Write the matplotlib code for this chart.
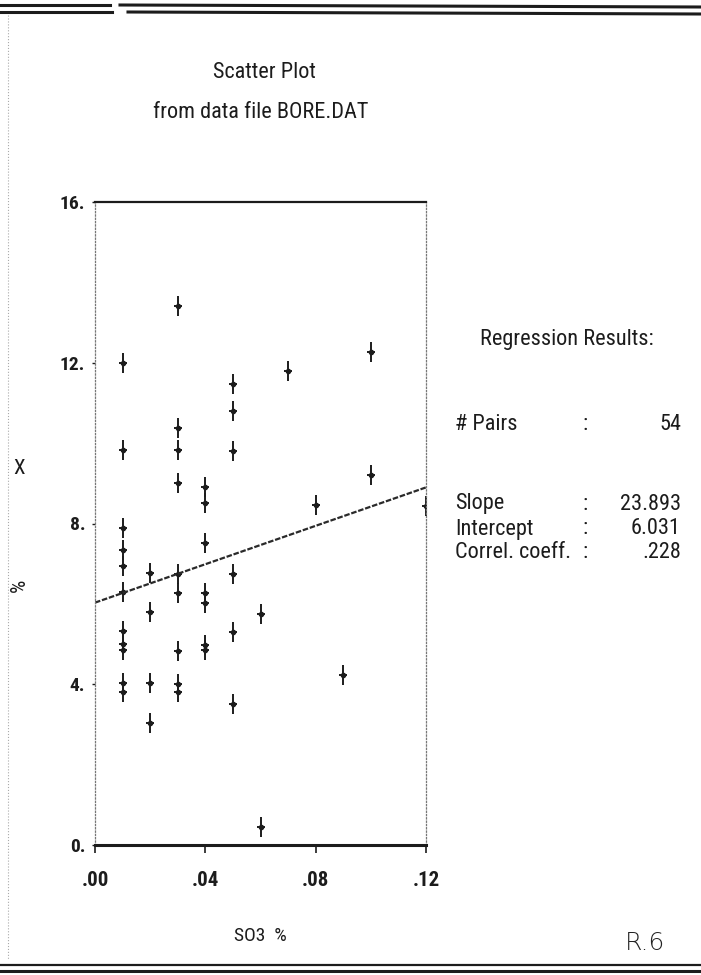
import matplotlib
matplotlib.use('Agg')
import numpy as np
import matplotlib.pyplot as plt
from matplotlib.lines import Line2D
from matplotlib import font_manager

# SO3 % vs X
so3 = [0.01, 0.01, 0.01, 0.01, 0.01, 0.01, 0.01, 0.01, 0.01, 0.01, 0.01,
       0.02, 0.02, 0.02, 0.02,
       0.03, 0.03, 0.03, 0.03, 0.03, 0.03, 0.03, 0.03, 0.03,
       0.04, 0.04, 0.04, 0.04, 0.04, 0.04, 0.04,
       0.05, 0.05, 0.05, 0.05, 0.05, 0.05,
       0.06, 0.06,
       0.07,
       0.08,
       0.09,
       0.10, 0.10,
       0.12]
xval = [12.0, 9.84, 7.9, 7.34, 6.94, 6.29, 5.33, 4.99, 4.85, 4.02, 3.81,
        6.76, 5.80, 4.02, 3.04,
        13.4, 10.37, 9.84, 9.0, 6.74, 6.28, 4.83, 4.0, 3.81,
        8.91, 8.5, 7.52, 6.28, 6.01, 4.98, 4.85,
        11.47, 10.79, 9.81, 6.74, 5.31, 3.51,
        5.76, 0.46,
        11.8,
        8.46,
        4.23,
        12.26, 9.2,
        8.43]

slope = 23.893
intercept = 6.031
reg_labels = ['# Pairs', 'Slope', 'Intercept', 'Correl. coeff.']
reg_values = ['54', '23.893', '6.031', '.228']

xticks = [0.0, 0.04, 0.08, 0.12]
xtick_labels = ['.00', '.04', '.08', '.12']
yticks = [0, 4, 8, 12, 16]
ytick_labels = ['0.', '4.', '8.', '12.', '16.']

W, H = 701, 975
ink = '#1c1c1c'

# the printout font is very narrow, use a condensed face when there is one
names = {f.name for f in font_manager.fontManager.ttflist}
narrow = [n for n in ['Roboto Condensed', 'Liberation Sans Narrow', 'Open Sans Condensed']
          if n in names]
plt.rcParams['font.family'] = narrow + ['DejaVu Sans']
plt.rcParams['font.stretch'] = 'condensed'


def px(x, y):
    return x / W, 1 - y / H


fig = plt.figure(figsize=(W / 100, H / 100), dpi=100)
ax = fig.add_axes([95 / W, 1 - 845 / H, 331 / W, 643 / H])
ax.set_xlim(0, 0.12)
ax.set_ylim(0, 16)

# data points: tall plus with a dot in the middle
ax.plot(so3, xval, ls='none', marker='|', ms=14, mew=1.4, color=ink)
ax.plot(so3, xval, ls='none', marker='_', ms=6, mew=1.4, color=ink)
ax.plot(so3, xval, ls='none', marker='o', ms=3, color=ink)

# regression line
lx = np.array([0.0, 0.12])
ax.plot(lx, intercept + slope * lx, color='#2a2a2a', lw=1.6, ls=(0, (2.5, 0.8)))

for side in ['left', 'right']:
    ax.spines[side].set_linestyle(':')
    ax.spines[side].set_linewidth(0.9)
    ax.spines[side].set_color('#777777')
ax.spines['top'].set_linewidth(1.6)
ax.spines['top'].set_color(ink)
ax.spines['bottom'].set_linewidth(2.2)
ax.spines['bottom'].set_color(ink)

ax.set_xticks(xticks)
ax.set_xticklabels(xtick_labels, fontsize=15, fontweight='bold', color=ink)
ax.set_yticks(yticks)
ax.set_yticklabels(ytick_labels, fontsize=14, fontweight='bold', color=ink)
ax.tick_params(axis='x', length=6, width=1.2, pad=13, color=ink)
ax.tick_params(axis='y', length=2, width=1.0, pad=5, color=ink)

# titles and axis labels
fig.text(*px(264, 73), 'Scatter Plot', ha='center', va='center', fontsize=16, color=ink)
fig.text(*px(261, 112), 'from data file BORE.DAT', ha='center', va='center', fontsize=16, color=ink)
fig.text(*px(260, 936), 'SO3  %', ha='center', va='center', fontsize=14, color=ink)
fig.text(*px(19, 468), 'X', ha='center', va='center', fontsize=15, color=ink)
fig.text(*px(19, 585), '%', ha='center', va='center', fontsize=15, rotation=90, color=ink)

# regression results panel
fig.text(*px(480, 340), 'Regression Results:', ha='left', va='center', fontsize=16, color=ink)
reg_y = [425, 504, 529, 553]
for lab, val, yy in zip(reg_labels, reg_values, reg_y):
    fig.text(*px(455, yy), lab, ha='left', va='center', fontsize=16, color=ink)
    fig.text(*px(585, yy), ':', ha='center', va='center', fontsize=16, color=ink)
    fig.text(*px(681, yy), val, ha='right', va='center', fontsize=16, color=ink)

fig.text(*px(645, 943), 'R.6', ha='center', va='center', fontsize=18, color='#222222',
         family=['DejaVu Sans'], stretch='normal', fontweight='light')

# page edges of the printout
fig.add_artist(Line2D([0, 110 / W], [1 - 5 / H, 1 - 5 / H], color=ink, lw=2.2))
fig.add_artist(Line2D([0, 112 / W], [1 - 12 / H, 1 - 12 / H], color=ink, lw=2.2))
fig.add_artist(Line2D([120 / W, 1], [1 - 5 / H, 1 - 7 / H], color=ink, lw=2.2))
fig.add_artist(Line2D([128 / W, 1], [1 - 12 / H, 1 - 14 / H], color=ink, lw=2.2))
fig.add_artist(Line2D([0, 1], [1 - 965 / H, 1 - 965 / H], color=ink, lw=1.6))
fig.add_artist(Line2D([0, 1], [1 - 971 / H, 1 - 971 / H], color=ink, lw=2.2))
fig.add_artist(Line2D([8 / W, 8 / W], [1 - 15 / H, 1 - 960 / H], color='#aaaaaa', lw=0.8, ls=':'))

fig.savefig('out.png', dpi=100, facecolor='white')
